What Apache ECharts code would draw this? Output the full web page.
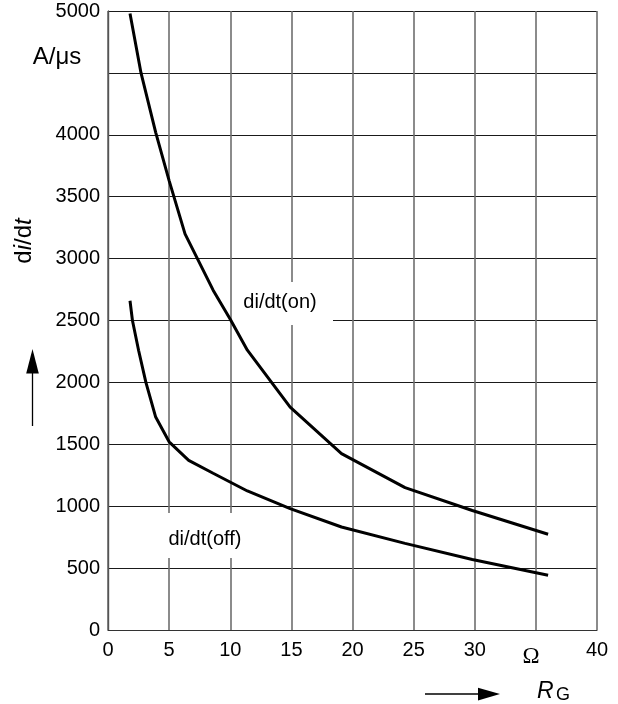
<!DOCTYPE html>
<html>
<head>
<meta charset="utf-8">
<title>di/dt vs RG</title>
<script src="https://cdn.jsdelivr.net/npm/echarts@6/dist/echarts.min.js"></script>
<style>
  html, body { margin: 0; padding: 0; background: #fff; }
  #chart { width: 618px; height: 704px; }
</style>
</head>
<body>
<div id="chart"></div>
<script>
// gate resistance RG in ohm, di/dt in A/us
const rgOn = [1.8, 2.7, 3.9, 5, 6.3, 8.6, 10, 11.4, 14.9, 19.1, 24.3, 29.8, 36];
const diOn = [4980, 4500, 4020, 3630, 3200, 2745, 2510, 2260, 1800, 1425, 1150, 965, 773];
const rgOff = [1.8, 2, 2.5, 3.1, 3.9, 5, 6.6, 8.6, 11.4, 14.9, 19.1, 24.3, 29.8, 36];
const diOff = [2660, 2500, 2260, 2000, 1720, 1520, 1370, 1266, 1123, 981, 832, 700, 570, 442];

const FONT = '"Liberation Sans", Arial, sans-serif';

const chart = echarts.init(document.getElementById('chart'));

const option = {
  animation: false,
  grid: { left: 108, top: 11, right: 21, bottom: 74 },
  xAxis: {
    type: 'value',
    min: 0,
    max: 40,
    interval: 5,
    axisLine: { show: true, lineStyle: { color: '#333', width: 1.2 } },
    axisTick: { show: false },
    splitLine: { show: true, lineStyle: { color: '#6e6e6e', width: 1.6 } },
    axisLabel: {
      color: '#000',
      fontFamily: FONT,
      fontSize: 20,
      margin: 10,
      formatter: v => (v === 35 ? '' : String(v))
    }
  },
  yAxis: {
    type: 'value',
    min: 0,
    max: 5000,
    interval: 500,
    axisLine: { show: true, lineStyle: { color: '#555', width: 1.4 } },
    axisTick: { show: false },
    splitLine: { show: true, lineStyle: { color: '#1a1a1a', width: 1 } },
    axisLabel: {
      color: '#000',
      fontFamily: FONT,
      fontSize: 20,
      margin: 8,
      formatter: v => (v === 4500 ? '' : String(v))
    }
  },
  series: [
    {
      name: 'di/dt(on)',
      type: 'line',
      data: rgOn.map((x, i) => [x, diOn[i]]),
      symbol: 'none',
      lineStyle: { color: '#000', width: 3 },
      z: 3
    },
    {
      name: 'di/dt(off)',
      type: 'line',
      data: rgOff.map((x, i) => [x, diOff[i]]),
      symbol: 'none',
      lineStyle: { color: '#000', width: 3 },
      z: 3
    }
  ],
  graphic: [
    // white boxes behind curve labels
    { type: 'rect', z: 1, shape: { x: 232, y: 282, width: 101, height: 43 }, style: { fill: '#fff' } },
    { type: 'rect', z: 1, shape: { x: 160, y: 513, width: 90, height: 45 }, style: { fill: '#fff' } },
    {
      type: 'text', z: 2, x: 280, y: 302,
      style: { text: 'di/dt(on)', font: '20px ' + FONT, fill: '#000', textAlign: 'center', textVerticalAlign: 'middle' }
    },
    {
      type: 'text', z: 2, x: 205, y: 539,
      style: { text: 'di/dt(off)', font: '20px ' + FONT, fill: '#000', textAlign: 'center', textVerticalAlign: 'middle' }
    },
    // unit labels
    {
      type: 'text', x: 57, y: 57,
      style: { text: 'A/μs', font: '24px ' + FONT, fill: '#000', textAlign: 'center', textVerticalAlign: 'middle' }
    },
    {
      type: 'text', x: 531, y: 657,
      style: { text: 'Ω', font: '23px "Liberation Serif", serif', fill: '#000', textAlign: 'center', textVerticalAlign: 'middle' }
    },
    // y axis name, rotated
    {
      type: 'text', x: 24, y: 241, rotation: Math.PI / 2,
      style: {
        text: '{a|d}{b|i}{a|/d}{b|t}',
        textAlign: 'center',
        textVerticalAlign: 'middle',
        rich: {
          a: { fontFamily: FONT, fontSize: 24, fill: '#000' },
          b: { fontFamily: FONT, fontSize: 24, fontStyle: 'italic', fill: '#000' }
        }
      }
    },
    // x axis name
    {
      type: 'text', x: 537, y: 692,
      style: { text: 'R', font: 'italic 23px ' + FONT, fill: '#000', textAlign: 'left', textVerticalAlign: 'middle' }
    },
    {
      type: 'text', x: 556, y: 695,
      style: { text: 'G', font: '18px ' + FONT, fill: '#000', textAlign: 'left', textVerticalAlign: 'middle' }
    },
    // arrows
    { type: 'line', shape: { x1: 32.5, y1: 372, x2: 32.5, y2: 426 }, style: { stroke: '#000', lineWidth: 1.3 } },
    { type: 'polygon', shape: { points: [[32.5, 349], [26.2, 373.5], [38.8, 373.5]] }, style: { fill: '#000' } },
    { type: 'line', shape: { x1: 425, y1: 694, x2: 480, y2: 694 }, style: { stroke: '#000', lineWidth: 1.3 } },
    { type: 'polygon', shape: { points: [[500, 694], [478, 687.8], [478, 700.4]] }, style: { fill: '#000' } }
  ]
};

chart.setOption(option);
</script>
</body>
</html>
